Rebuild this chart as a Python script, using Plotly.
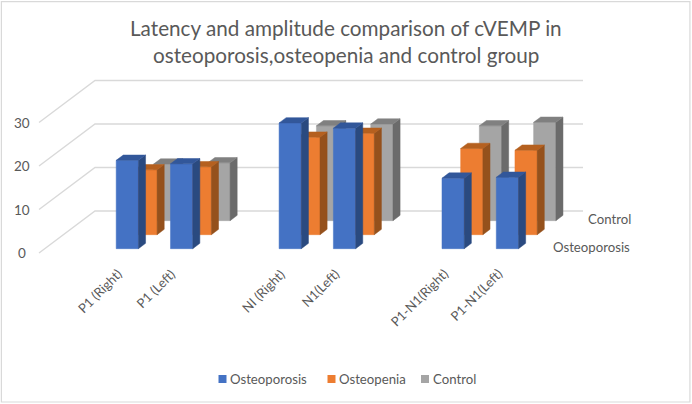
import plotly.graph_objects as go

# blank slots keep the gaps between the groups, like the empty rows in the sheet
categories = ["", "P1 (Right)", "P1 (Left)", "", "NI (Right)", "N1(Left)", "", "P1-N1(Right)", "P1-N1(Left)"]
series_names = ["Osteoporosis", "Osteopenia", "Control"]
osteoporosis = [None, 20.3, 19.5, None, 28.9, 27.7, None, 16.2, 16.4]
osteopenia = [None, 14.9, 15.6, None, 22.4, 23.3, None, 19.8, 19.4]
control = [None, 13.0, 13.3, None, 21.8, 22.2, None, 21.8, 22.6]
y_ticks = [0, 10, 20, 30]
front_colors = ["#4472C4", "#ED7D31", "#A5A5A5"]
side_colors = ["#2A4A80", "#95511C", "#6B6B6B"]
top_colors = ["#32579A", "#B5601F", "#808080"]
text_color = "#595959"
font = "Lato"

W, H = 692, 404
# axes: x in category slots, y in value units, both set to fill the whole page
PX_SLOT = 54.3
PX_VALUE = 4.35
X0, Y0 = 39, 253
# oblique depth vector of the whole floor, in axis units
DEPTH_X = 56 / PX_SLOT
DEPTH_Y = 42 / PX_VALUE
BAR_W = 0.41
WALL_END = (583 - 56 - X0) / PX_SLOT


def oblique(x, v, d):
    return x + d * DEPTH_X, v + d * DEPTH_Y


def polygon(points):
    return [p[0] for p in points] + [points[0][0], None], [p[1] for p in points] + [points[0][1], None]


def px_x(p):
    return (p - X0) / PX_SLOT


def px_y(p):
    return (Y0 - p) / PX_VALUE


fig = go.Figure()

# walls
for t in y_ticks:
    a = oblique(0, t, 0)
    b = oblique(0, t, 1)
    c = oblique(WALL_END, t, 1)
    fig.add_trace(go.Scatter(x=[a[0], b[0], c[0]], y=[a[1], b[1], c[1]], mode="lines",
                             line=dict(color="#D9D9D9", width=1.4), showlegend=False))

# back row first so the nearer bars cover it
all_values = [osteoporosis, osteopenia, control]
for s in [2, 1, 0]:
    d1 = (s + 0.31) / 3
    d2 = (s + 0.69) / 3
    fronts = [[], []]
    sides = [[], []]
    tops = [[], []]
    for i, v in enumerate(all_values[s]):
        if v is None:
            continue
        x1 = i + 0.52 - BAR_W / 2
        x2 = i + 0.52 + BAR_W / 2
        for target, pts in (
            (fronts, [oblique(x1, 0, d1), oblique(x2, 0, d1), oblique(x2, v, d1), oblique(x1, v, d1)]),
            (sides, [oblique(x2, 0, d1), oblique(x2, 0, d2), oblique(x2, v, d2), oblique(x2, v, d1)]),
            (tops, [oblique(x1, v, d1), oblique(x2, v, d1), oblique(x2, v, d2), oblique(x1, v, d2)]),
        ):
            xs, ys = polygon(pts)
            target[0] += xs
            target[1] += ys
    for face, col in ((fronts, front_colors[s]), (sides, side_colors[s]), (tops, top_colors[s])):
        fig.add_trace(go.Scatter(x=face[0], y=face[1], mode="lines", fill="toself", fillcolor=col,
                                 line=dict(color=col, width=0.5), showlegend=False))

annotations = []
for t in y_ticks:
    annotations.append(dict(x=px_x(22), y=t, text=str(t), showarrow=False, xanchor="center", yanchor="middle",
                            font=dict(family=font, size=13.5, color=text_color)))
for i, c in enumerate(categories):
    if c:
        annotations.append(dict(x=i + 0.63, y=px_y(263), text=c, textangle=-45, showarrow=False,
                                xanchor="right", yanchor="top",
                                font=dict(family=font, size=13, color=text_color)))
# depth axis labels, the middle one is skipped in the reference
annotations.append(dict(x=px_x(633), y=px_y(219), text=series_names[2], showarrow=False, xanchor="right",
                        yanchor="middle", font=dict(family=font, size=13.2, color=text_color)))
annotations.append(dict(x=px_x(632), y=px_y(247), text=series_names[0], showarrow=False, xanchor="right",
                        yanchor="middle", font=dict(family=font, size=13.2, color=text_color)))

# legend row
legend_x = [222.5, 331.5, 425]
fig.add_trace(go.Scatter(x=[px_x(p) for p in legend_x], y=[px_y(379)] * 3, mode="markers",
                         marker=dict(symbol="square", size=8, color=front_colors, line=dict(width=0)),
                         showlegend=False))
for p, name in zip(legend_x, series_names):
    annotations.append(dict(x=px_x(p + 5.5), y=px_y(379), text=name, showarrow=False, xanchor="left",
                            yanchor="middle", font=dict(family=font, size=13.2, color=text_color)))

title_lines = ["Latency and amplitude comparison of cVEMP in", "osteoporosis,osteopenia and control group"]
for line, p in zip(title_lines, [28, 55]):
    annotations.append(dict(x=px_x(345.5), y=px_y(p), text=line, showarrow=False, xanchor="center",
                            yanchor="middle", font=dict(family=font, size=20.7, color=text_color)))

fig.update_layout(
    width=W, height=H, margin=dict(l=0, r=0, t=0, b=0),
    paper_bgcolor="white", plot_bgcolor="white", hovermode=False, showlegend=False,
    xaxis=dict(range=[-X0 / PX_SLOT, (W - X0) / PX_SLOT], visible=False, fixedrange=True),
    yaxis=dict(range=[(Y0 - H) / PX_VALUE, Y0 / PX_VALUE], visible=False, fixedrange=True),
    annotations=annotations,
    shapes=[dict(type="rect", xref="paper", yref="paper", x0=0.002, x1=0.997, y0=0.005, y1=0.996,
                 line=dict(color="#D9D9D9", width=1.2))],
)
# the page's default body margin would push the chart 8px in
fig.write_html("out.html", config={"displayModeBar": False},
               post_script="document.body.style.margin='0';document.body.style.overflow='hidden';")
